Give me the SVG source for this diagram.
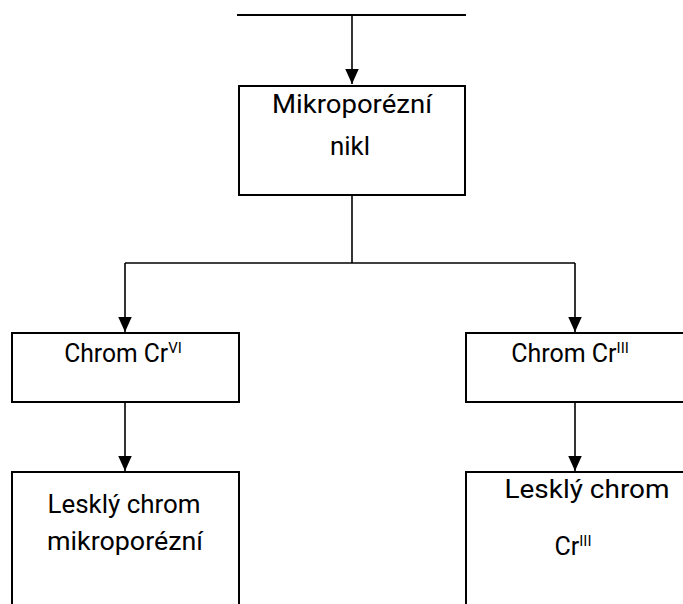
<svg xmlns="http://www.w3.org/2000/svg" width="683" height="604" viewBox="0 0 683 604">
<defs>
<marker id="ah" viewBox="0 0 10 10" refX="10" refY="5" markerWidth="15" markerHeight="15" markerUnits="userSpaceOnUse" orient="auto">
<path d="M0,0.5 L10,5 L0,9.5 Z" fill="#000"/>
</marker>
<style>
.box{fill:#fff;stroke:#000;stroke-width:2}
.ln{fill:none;stroke:#000;stroke-width:1.6}
.t{font-family:Roboto,"Liberation Sans",Arial,sans-serif;font-size:25px;fill:#000;text-anchor:middle}
.sup{font-size:15px}
</style>
</defs>
<rect width="683" height="604" fill="#fff"/>
<g id="connectors">
<line class="ln" x1="237" y1="15" x2="466" y2="15" style="stroke-width:2"/>
<line class="ln" x1="352" y1="15" x2="352" y2="84" marker-end="url(#ah)"/>
<polyline class="ln" points="352,195 352,263"/>
<polyline class="ln" points="125,263 575,263"/>
<line class="ln" x1="125" y1="263" x2="125" y2="332" marker-end="url(#ah)"/>
<line class="ln" x1="575" y1="263" x2="575" y2="332" marker-end="url(#ah)"/>
<line class="ln" x1="125" y1="402" x2="125" y2="471" marker-end="url(#ah)"/>
<line class="ln" x1="575" y1="402" x2="575" y2="471" marker-end="url(#ah)"/>
</g>
<g id="node-nikl">
<rect class="box" x="239" y="86" width="226" height="109"/>
<text class="t" x="352" y="113" textLength="160" lengthAdjust="spacingAndGlyphs">Mikroporézní</text>
<text class="t" x="350" y="155" textLength="40" lengthAdjust="spacingAndGlyphs">nikl</text>
</g>
<g id="node-cr6">
<rect class="box" x="12" y="333" width="227" height="69"/>
<text class="t" x="123" y="362"><tspan textLength="104" lengthAdjust="spacingAndGlyphs">Chrom Cr</tspan><tspan class="sup" dy="-9">VI</tspan></text>
</g>
<g id="node-cr3">
<rect class="box" x="466" y="333" width="230" height="69"/>
<text class="t" x="570" y="362">Chrom Cr<tspan class="sup" dy="-9">III</tspan></text>
</g>
<g id="node-leskly-mikro">
<path class="box" d="M12,610 V472 H239 V610"/>
<text class="t" x="124" y="513" textLength="153" lengthAdjust="spacingAndGlyphs">Lesklý chrom</text>
<text class="t" x="125" y="550" textLength="156" lengthAdjust="spacingAndGlyphs">mikroporézní</text>
</g>
<g id="node-leskly-cr3">
<path class="box" d="M466,610 V472 H696"/>
<text class="t" x="587" y="498" textLength="165" lengthAdjust="spacingAndGlyphs">Lesklý chrom</text>
<text class="t" x="573" y="555">Cr<tspan class="sup" dy="-9">III</tspan></text>
</g>
</svg>
